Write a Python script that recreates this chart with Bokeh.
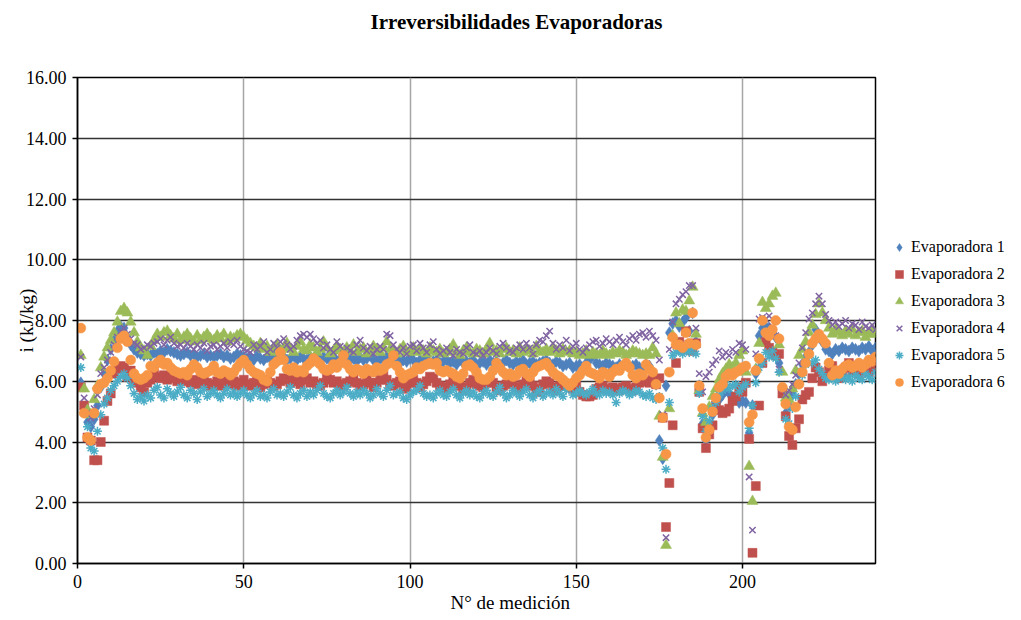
from bokeh.plotting import figure
from bokeh.models import (ColumnDataSource, Legend, LegendItem, FixedTicker,
                          NumeralTickFormatter, Range1d, Title)
from bokeh.embed import file_html
from bokeh.resources import INLINE

title_text = "Irreversibilidades Evaporadoras"
x_label = "N° de medición"
y_label = "i (kJ/kg)"
series_names = ["Evaporadora 1", "Evaporadora 2", "Evaporadora 3",
                "Evaporadora 4", "Evaporadora 5", "Evaporadora 6"]
x_ticks = [0, 50, 100, 150, 200]
y_ticks = [0, 2, 4, 6, 8, 10, 12, 14, 16]

medicion = list(range(1, 241))

evap1 = [
    5.95, 5.10, 4.65, 4.50, 4.75, 5.20, 5.80, 6.25, 6.70, 7.05,
    7.35, 7.65, 7.80, 7.75, 7.45, 7.20, 7.05, 6.95, 6.90, 6.85,
    6.90, 6.85, 6.95, 6.90, 7.00, 6.95, 7.05, 7.00, 6.95, 6.90,
    6.85, 6.90, 6.95, 6.85, 6.90, 6.80, 6.85, 6.90, 6.80, 6.85,
    6.80, 6.85, 6.90, 6.80, 6.85, 6.75, 6.80, 6.90, 6.85, 6.80,
    6.75, 6.80, 6.70, 6.85, 6.75, 6.70, 6.80, 6.75, 6.85, 6.70,
    6.75, 6.80, 6.70, 6.75, 6.85, 6.70, 6.80, 6.75, 6.70, 6.80,
    6.75, 6.85, 6.70, 6.80, 6.75, 6.70, 6.80, 6.65, 6.75, 6.70,
    6.80, 6.70, 6.75, 6.65, 6.80, 6.70, 6.75, 6.85, 6.70, 6.65,
    6.75, 6.70, 6.80, 6.65, 6.70, 6.75, 6.60, 6.70, 6.65, 6.75,
    6.70, 6.60, 6.70, 6.65, 6.75, 6.60, 6.65, 6.70, 6.60, 6.65,
    6.70, 6.60, 6.65, 6.55, 6.70, 6.60, 6.65, 6.60, 6.70, 6.55,
    6.60, 6.65, 6.55, 6.70, 6.60, 6.65, 6.55, 6.60, 6.70, 6.60,
    6.55, 6.65, 6.60, 6.70, 6.55, 6.60, 6.65, 6.55, 6.60, 6.65,
    6.70, 6.60, 6.55, 6.65, 6.60, 6.50, 6.55, 6.60, 6.45, 6.50,
    6.55, 6.45, 6.60, 6.70, 6.85, 6.60, 6.55, 6.50, 6.60, 6.55,
    6.50, 6.45, 6.55, 6.50, 6.60, 6.45, 6.50, 6.55, 6.45, 6.40,
    6.55, 6.50, 6.30, 5.90, 4.05, 3.45, 5.85, 7.60, 7.90, 8.00,
    7.80, 7.95, 8.10, 7.65, 8.25, 7.30, 5.85, 4.60, 4.05, 4.40,
    4.90, 5.15, 5.40, 5.55, 5.70, 5.60, 5.35, 5.45, 5.30, 5.35,
    5.30, 4.30, 5.20, 6.25, 7.50, 7.75, 7.80, 7.75, 7.60, 7.45,
    6.60, 5.70, 4.95, 5.20, 5.60, 5.90, 6.25, 6.55, 6.80, 6.95,
    7.20, 7.70, 7.45, 7.30, 7.05, 7.00, 6.90, 7.05, 7.00, 7.10,
    7.05, 7.00, 7.10, 7.05, 7.00, 7.10, 7.05, 7.15, 7.00, 7.10,
]

evap2 = [
    5.80, 5.20, 4.15, 4.05, 3.40, 3.40, 4.00, 4.70, 5.35, 5.60,
    6.25, 6.40, 6.50, 6.45, 6.15, 6.35, 6.05, 5.95, 5.80, 5.65,
    5.95, 6.05, 6.25, 6.15, 6.10, 6.20, 6.05, 6.15, 6.10, 6.00,
    6.05, 6.15, 6.00, 5.95, 6.05, 5.90, 6.00, 6.10, 5.95, 5.85,
    5.90, 6.00, 5.85, 6.05, 5.95, 5.90, 6.00, 5.85, 5.95, 6.05,
    5.90, 5.85, 5.95, 6.00, 5.80, 5.90, 6.05, 5.95, 5.85, 5.90,
    6.00, 6.10, 6.05, 5.95, 6.15, 6.00, 5.90, 6.05, 6.10, 5.95,
    6.00, 5.90, 5.85, 5.95, 6.10, 6.05, 5.95, 6.00, 5.90, 5.85,
    5.95, 6.00, 6.10, 5.95, 5.85, 5.90, 6.05, 5.95, 5.80, 5.95,
    6.05, 6.20, 6.05, 5.90, 5.85, 5.95, 6.00, 5.75, 5.80, 5.95,
    6.05, 5.95, 5.80, 5.90, 6.00, 6.15, 6.10, 5.95, 5.85, 5.75,
    5.80, 5.90, 6.05, 6.00, 5.85, 5.70, 5.80, 5.95, 6.05, 5.90,
    5.85, 5.80, 5.95, 6.05, 5.95, 5.80, 5.70, 5.85, 5.90, 6.00,
    5.95, 5.80, 5.75, 5.90, 6.05, 5.95, 5.85, 5.65, 5.75, 5.90,
    6.00, 5.95, 5.80, 5.70, 5.85, 5.95, 5.90, 5.80, 5.75, 5.85,
    5.65, 5.55, 5.50, 5.50, 5.55, 5.75, 5.80, 5.85, 5.75, 5.70,
    5.80, 5.75, 5.70, 5.80, 5.85, 5.75, 5.70, 5.80, 5.95, 6.00,
    6.00, 5.95, 6.05, 5.90, 6.10, 4.80, 1.20, 2.65, 4.55, 6.60,
    7.30, 7.05, 7.65, 7.20, 7.00, 7.25, 5.65, 4.45, 3.80, 4.25,
    4.55, 5.20, 5.05, 4.95, 5.00, 5.10, 5.35, 5.50, 5.80, 5.65,
    5.95, 4.10, 0.35, 2.55, 5.20, 6.60, 7.30, 7.10, 6.95, 6.85,
    6.90, 5.60, 4.85, 4.20, 3.90, 4.45, 4.75, 5.40, 5.55, 5.65,
    6.10, 6.45, 6.30, 6.00, 6.15, 6.35, 6.50, 6.25, 6.10, 6.30,
    6.45, 6.60, 6.35, 6.50, 6.25, 6.40, 6.55, 6.30, 6.65, 6.50,
]

evap3 = [
    6.85, 5.75, 5.05, 4.90, 5.40, 5.85, 6.45, 6.80, 7.10, 7.35,
    7.60, 7.95, 8.30, 8.40, 8.25, 7.95, 7.60, 7.30, 7.10, 7.00,
    6.85, 7.15, 7.35, 7.55, 7.45, 7.60, 7.65, 7.50, 7.40, 7.55,
    7.35, 7.45, 7.55, 7.40, 7.30, 7.50, 7.35, 7.45, 7.55, 7.40,
    7.35, 7.50, 7.40, 7.55, 7.30, 7.45, 7.40, 7.50, 7.55, 7.45,
    7.35, 7.25, 7.15, 7.10, 7.25, 7.05, 7.15, 6.95, 7.10, 7.20,
    7.00, 7.10, 7.25, 7.05, 6.95, 7.15, 7.30, 7.05, 7.00, 7.20,
    7.10, 6.95, 7.05, 7.30, 7.10, 6.90, 7.00, 7.15, 7.05, 6.95,
    7.10, 7.00, 7.20, 6.95, 7.05, 7.10, 6.90, 7.00, 7.15, 7.05,
    6.95, 7.10, 7.30, 7.05, 7.00, 6.90, 7.05, 7.15, 6.95, 7.00,
    7.10, 6.95, 7.05, 7.00, 6.90, 7.10, 7.00, 6.95, 7.05, 6.90,
    6.95, 7.05, 7.20, 6.95, 6.85, 7.00, 7.10, 6.95, 6.90, 7.05,
    7.00, 6.90, 7.05, 7.25, 6.95, 7.00, 6.90, 7.05, 7.10, 6.95,
    7.00, 6.90, 7.10, 6.95, 7.05, 7.00, 6.90, 7.15, 7.00, 6.95,
    7.05, 6.95, 7.10, 7.00, 6.90, 7.05, 6.95, 7.00, 6.90, 6.95,
    6.85, 6.90, 7.00, 6.85, 6.95, 6.90, 6.85, 7.00, 6.90, 6.85,
    6.95, 6.90, 7.00, 6.95, 6.85, 6.90, 7.00, 6.95, 6.90, 6.85,
    6.90, 6.85, 7.10, 6.90, 4.85, 3.50, 0.60, 5.10, 7.50, 8.25,
    7.90, 8.35, 8.30, 8.65, 9.10, 7.55, 5.70, 4.95, 4.65, 5.15,
    5.50, 5.75, 6.05, 6.25, 6.40, 6.55, 6.45, 6.60, 6.85, 7.00,
    6.30, 3.20, 2.05, 6.40, 7.25, 8.60, 8.40, 8.55, 8.80, 8.90,
    7.20, 6.30, 5.45, 5.40, 5.75, 6.35, 6.85, 7.05, 7.30, 7.60,
    7.85, 8.20, 8.55, 8.25, 8.00, 7.75, 7.55, 7.70, 7.60, 7.50,
    7.65, 7.55, 7.70, 7.50, 7.60, 7.65, 7.45, 7.55, 7.70, 7.55,
]

evap4 = [
    6.80, 5.45, 4.95, 4.80, 5.10, 5.55, 6.25, 6.45, 6.70, 6.95,
    7.20, 7.45, 7.65, 7.75, 7.55, 7.40, 7.25, 7.20, 7.05, 7.10,
    7.20, 7.15, 7.25, 7.30, 7.40, 7.20, 7.35, 7.45, 7.25, 7.15,
    7.20, 7.10, 7.25, 7.15, 7.05, 7.20, 7.10, 7.25, 7.00, 7.15,
    7.20, 7.05, 7.15, 7.25, 7.10, 7.30, 7.20, 7.35, 7.15, 7.05,
    7.00, 6.95, 7.20, 7.05, 7.15, 7.30, 6.95, 7.05, 7.25, 7.10,
    7.30, 7.40, 7.20, 7.05, 7.15, 7.35, 7.50, 7.55, 7.45, 7.55,
    7.40, 7.25, 7.35, 7.10, 7.20, 7.05, 6.95, 7.30, 7.15, 6.90,
    7.10, 7.00, 6.95, 7.20, 7.35, 7.10, 7.00, 7.15, 6.90, 7.05,
    7.15, 7.05, 7.55, 7.50, 7.20, 7.05, 6.95, 7.10, 6.90, 7.15,
    7.20, 7.00, 7.25, 7.10, 6.95, 7.20, 7.30, 7.05, 6.90, 7.00,
    7.10, 6.95, 6.85, 7.05, 6.95, 6.90, 7.10, 7.20, 6.95, 6.90,
    7.00, 6.85, 6.95, 7.10, 7.00, 6.90, 7.15, 7.25, 7.10, 7.00,
    6.95, 7.10, 7.20, 7.05, 7.25, 7.10, 6.90, 7.20, 7.35, 7.30,
    7.50, 7.65, 7.25, 7.05, 7.20, 7.10, 7.35, 7.00, 7.15, 7.25,
    7.05, 6.95, 7.10, 7.20, 7.30, 7.35, 7.15, 7.25, 7.40, 7.30,
    7.20, 7.35, 7.45, 7.30, 7.20, 7.40, 7.50, 7.35, 7.55, 7.60,
    7.45, 7.65, 7.50, 7.35, 6.70, 4.90, 0.85, 7.05, 7.95, 8.55,
    8.70, 8.85, 8.95, 9.15, 9.15, 7.75, 6.25, 5.65, 6.15, 6.30,
    6.55, 6.70, 7.00, 6.80, 6.95, 6.85, 7.05, 6.95, 7.25, 7.20,
    7.05, 2.85, 1.10, 6.90, 8.05, 8.10, 8.05, 8.15, 7.80, 7.50,
    6.40, 5.75, 5.55, 5.70, 5.90, 6.20, 6.60, 7.10, 7.60, 8.05,
    8.25, 8.55, 8.80, 8.55, 8.20, 8.00, 7.85, 7.95, 7.80, 7.90,
    8.00, 7.75, 7.90, 7.85, 7.70, 7.95, 7.80, 7.75, 7.85, 7.70,
]

evap5 = [
    6.45, 4.95, 4.50, 3.80, 3.70, 4.35, 4.90, 5.25, 5.45, 5.70,
    5.85, 6.00, 6.15, 6.25, 6.10, 5.85, 5.60, 5.40, 5.50, 5.35,
    5.55, 5.45, 5.70, 5.80, 5.55, 5.45, 5.75, 5.60, 5.50, 5.65,
    5.80, 5.55, 5.45, 5.70, 5.60, 5.40, 5.65, 5.75, 5.50, 5.60,
    5.70, 5.55, 5.45, 5.60, 5.75, 5.55, 5.65, 5.50, 5.60, 5.70,
    5.55, 5.45, 5.60, 5.70, 5.50, 5.55, 5.45, 5.65, 5.75, 5.55,
    5.60, 5.50, 5.65, 5.80, 5.55, 5.45, 5.60, 5.70, 5.50, 5.65,
    5.55, 5.70, 5.85, 5.60, 5.50, 5.45, 5.60, 5.70, 5.55, 5.65,
    5.80, 5.60, 5.50, 5.65, 5.55, 5.70, 5.60, 5.45, 5.55, 5.75,
    5.60, 5.50, 5.70, 5.85, 5.55, 5.60, 5.65, 5.45, 5.40, 5.55,
    5.65, 5.70, 5.85, 5.60, 5.50, 5.55, 5.45, 5.60, 5.70, 5.55,
    5.50, 5.65, 5.75, 5.55, 5.45, 5.60, 5.70, 5.55, 5.65, 5.50,
    5.45, 5.60, 5.70, 5.55, 5.50, 5.65, 5.80, 5.60, 5.45, 5.55,
    5.70, 5.60, 5.50, 5.65, 5.75, 5.55, 5.45, 5.60, 5.70, 5.50,
    5.60, 5.65, 5.55, 5.75, 5.60, 5.50, 5.70, 5.80, 5.55, 5.60,
    5.70, 5.60, 5.55, 5.65, 5.75, 5.60, 5.55, 5.70, 5.60, 5.65,
    5.55, 5.30, 5.60, 5.70, 5.65, 5.55, 5.60, 5.70, 5.65, 5.55,
    5.50, 5.60, 5.45, 5.40, 5.50, 3.80, 3.10, 5.30, 6.85, 6.95,
    7.00, 6.90, 7.05, 6.95, 7.10, 6.90, 5.60, 4.85, 4.35, 4.70,
    5.10, 5.30, 5.55, 5.70, 5.90, 5.75, 5.85, 5.90, 5.65, 5.80,
    5.90, 4.45, 5.20, 5.95, 6.45, 6.60, 6.95, 6.80, 7.00, 6.75,
    6.30, 5.80, 4.75, 4.60, 5.10, 5.50, 5.95, 6.20, 6.55, 6.85,
    6.60, 6.70, 6.40, 6.25, 6.10, 6.05, 6.15, 6.00, 6.10, 6.20,
    6.05, 6.15, 6.00, 6.20, 6.10, 6.05, 6.25, 6.15, 6.05, 6.30,
]

evap6 = [
    7.75, 4.95, 4.15, 4.05, 4.95, 5.75, 5.90, 5.95, 6.10, 6.35,
    6.65, 7.10, 7.40, 7.50, 7.30, 6.70, 6.25, 6.10, 6.05, 6.10,
    6.20, 6.50, 6.45, 6.60, 6.70, 6.55, 6.60, 6.45, 6.35, 6.30,
    6.25, 6.30, 6.20, 6.40, 6.55, 6.45, 6.30, 6.25, 6.30, 6.35,
    6.50, 6.30, 6.25, 6.35, 6.30, 6.20, 6.30, 6.45, 6.60, 6.70,
    6.55, 6.40, 6.30, 6.25, 6.20, 6.05, 6.00, 6.30, 6.55, 6.65,
    6.95, 6.70, 6.40, 6.35, 6.45, 6.30, 6.35, 6.30, 6.50, 6.60,
    6.75, 6.65, 6.55, 6.40, 6.35, 6.40, 6.55, 6.45, 6.60, 6.85,
    6.55, 6.40, 6.30, 6.40, 6.35, 6.25, 6.40, 6.35, 6.30, 6.45,
    6.35, 6.40, 6.55, 6.60, 6.85, 6.50, 6.30, 6.10, 6.20, 6.25,
    6.30, 6.45, 6.40, 6.50, 6.55, 6.60, 6.55, 6.60, 6.35, 6.30,
    6.35, 6.30, 6.25, 6.15, 6.10, 6.25, 6.50, 6.55, 6.45, 6.30,
    6.10, 6.05, 6.05, 6.15, 6.35, 6.60, 6.45, 6.30, 6.20, 6.25,
    6.15, 6.20, 6.35, 6.40, 6.25, 6.15, 6.30, 6.45, 6.50, 6.55,
    6.60, 6.45, 6.30, 6.20, 6.15, 6.05, 5.95, 5.85, 5.95, 6.10,
    6.20, 6.35, 6.50, 6.30, 6.25, 6.20, 6.10, 6.30, 6.25, 6.15,
    6.30, 6.40, 6.35, 6.50, 6.60, 6.45, 6.20, 6.10, 6.25, 6.20,
    6.55, 6.40, 6.30, 5.90, 5.45, 4.80, 3.60, 6.30, 7.45, 7.20,
    7.20, 7.10, 7.60, 7.25, 8.25, 7.20, 5.85, 5.10, 4.15, 4.40,
    5.00, 5.45, 5.80, 5.90, 6.15, 6.25, 6.20, 6.30, 6.35, 6.45,
    6.50, 4.65, 4.90, 6.35, 6.75, 8.00, 7.60, 7.50, 7.70, 8.00,
    7.40, 5.80, 5.25, 4.50, 4.40, 5.15, 5.90, 6.30, 6.60, 6.90,
    7.25, 7.40, 7.55, 7.40, 7.25, 6.60, 6.20, 6.35, 6.25, 6.40,
    6.50, 6.55, 6.45, 6.50, 6.60, 6.45, 6.55, 6.70, 6.65, 6.80,
]

all_series = [evap1, evap2, evap3, evap4, evap5, evap6]
colors = ["#4F81BD", "#C0504D", "#9BBB59", "#8064A2", "#4BACC6", "#F79646"]
markers = ["diamond", "square", "triangle", "x", "asterisk", "circle"]
sizes = [12, 9, 11, 9, 9, 10]

SERIF = "Liberation Serif"

p = figure(width=1013, height=619, output_backend="svg", toolbar_location=None,
           x_range=Range1d(0, 240), y_range=Range1d(0, 16),
           frame_width=798, frame_height=486,
           min_border_left=77, min_border_top=77, min_border_bottom=40,
           min_border_right=138)
p.background_fill_color = "white"
p.border_fill_color = "white"
p.outline_line_color = "black"
p.outline_line_width = 1.5

# main title (outermost in the top panel) plus an empty spacer nearer the frame
p.title.text = title_text
p.title.text_font = SERIF
p.title.text_font_size = "21px"
p.title.text_font_style = "bold"
p.title.text_color = "black"
p.title.align = "left"
p.title.offset = 293
p.title.standoff = 8
spacer = Title(text=" ", text_font_size="10px", standoff=27)
p.add_layout(spacer, "above")

# x-axis title placed below the axis so that it can be shifted sideways
p.add_layout(Title(text=x_label, text_font=SERIF, text_font_size="19px",
                   text_font_style="normal", text_color="black",
                   align="left", offset=373, standoff=2,
                   vertical_align="top"), "below")

p.xaxis.ticker = FixedTicker(ticks=x_ticks)
p.yaxis.ticker = FixedTicker(ticks=y_ticks)
p.yaxis.formatter = NumeralTickFormatter(format="0.00")
for ax in (p.xaxis[0], p.yaxis[0]):
    ax.major_label_text_font = SERIF
    ax.major_label_text_font_size = "18px"
    ax.major_label_text_color = "black"
    ax.axis_line_color = "black"
    ax.axis_line_width = 1.5
    ax.major_tick_line_color = "black"
    ax.major_tick_line_width = 1.5
    ax.major_tick_out = 5
    ax.major_tick_in = 0
    ax.minor_tick_line_color = None
p.xaxis.major_label_standoff = 6
p.yaxis.major_label_standoff = 6

p.yaxis.axis_label = y_label
p.yaxis.axis_label_text_font = SERIF
p.yaxis.axis_label_text_font_size = "19px"
p.yaxis.axis_label_text_font_style = "normal"
p.yaxis.axis_label_text_color = "black"
p.yaxis.axis_label_standoff = -14

p.ygrid.grid_line_color = "#333333"
p.ygrid.grid_line_width = 1.5
p.xgrid.grid_line_color = "#a6a6a6"
p.xgrid.grid_line_width = 1.5

items = []
for name, vals, col, mk, sz in zip(series_names, all_series, colors, markers, sizes):
    src = ColumnDataSource(dict(x=medicion, y=vals))
    if mk in ("x", "asterisk"):
        r = p.scatter("x", "y", source=src, marker=mk, size=sz,
                      line_color=col, line_width=1.5, fill_color=None)
    else:
        r = p.scatter("x", "y", source=src, marker=mk, size=sz,
                      line_color=col, fill_color=col, line_width=0.5)
    items.append(LegendItem(label=name, renderers=[r]))

legend = Legend(items=items, location=(14, 171))
legend.label_text_font = SERIF
legend.label_text_font_size = "16px"
legend.label_text_color = "black"
legend.border_line_color = None
legend.background_fill_alpha = 0
legend.margin = 0
legend.padding = 4
legend.spacing = 7
legend.glyph_width = 20
legend.glyph_height = 20
legend.label_height = 20
legend.label_standoff = 2
p.add_layout(legend, "right")

open("out.html", "w").write(file_html(p, INLINE))
